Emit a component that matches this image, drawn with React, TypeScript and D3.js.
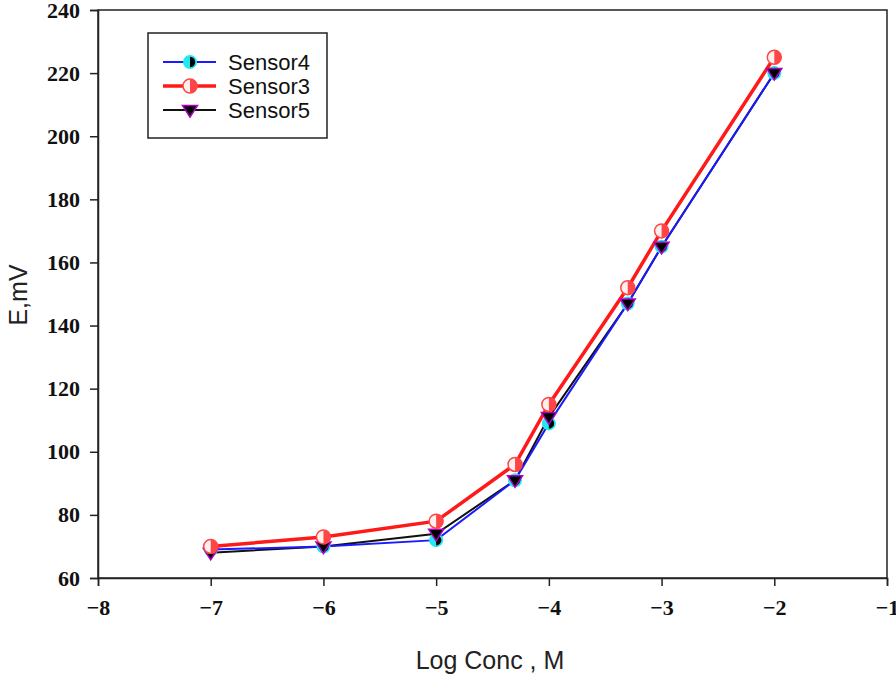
import React, { useEffect, useRef } from "react";
import * as d3 from "d3";

const logConc = [-7, -6, -5, -4.3, -4, -3.3, -3, -2];
const sensor4 = [69, 70, 72, 91, 109, 147, 165, 220];
const sensor3 = [70, 73, 78, 96, 115, 152, 170, 225];
const sensor5 = [68, 70, 74, 91, 111, 147, 165, 220];
const xTicks = [-8, -7, -6, -5, -4, -3, -2, -1];
const yTicks = [60, 80, 100, 120, 140, 160, 180, 200, 220, 240];

function App() {
  const svgRef = useRef(null);
  const svgWidth = 896;
  const svgHeight = 675;

  useEffect(() => {
    const svg = d3.select(svgRef.current);
    svg.selectAll("*").remove();
    const left = 98, right = 887, top = 10, bottom = 578;

    const x = d3.scaleLinear().domain([-8, -1]).range([left, right]);
    const y = d3.scaleLinear().domain([60, 240]).range([bottom, top]);

    // frame
    svg.append("rect")
      .attr("x", left).attr("y", top)
      .attr("width", right - left).attr("height", bottom - top)
      .attr("fill", "white").attr("stroke", "#222").attr("stroke-width", 1.5);

    const xAxis = svg.append("g")
      .attr("transform", `translate(0,${bottom})`)
      .call(d3.axisBottom(x).tickValues(xTicks).tickSize(8).tickPadding(13).tickFormat(d3.format("d")));
    const yAxis = svg.append("g")
      .attr("transform", `translate(${left},0)`)
      .call(d3.axisLeft(y).tickValues(yTicks).tickSize(8).tickPadding(10));

    [xAxis, yAxis].forEach((a) => {
      a.select(".domain").attr("stroke", "#222").attr("stroke-width", 1.5);
      a.selectAll(".tick line").attr("stroke", "#222").attr("stroke-width", 1.5);
      a.selectAll(".tick text")
        .attr("fill", "#111")
        .style("font-family", "'Liberation Serif', 'Times New Roman', serif")
        .style("font-weight", "bold")
        .style("font-size", "22px");
    });

    svg.append("text")
      .attr("x", 490).attr("y", 669)
      .attr("text-anchor", "middle")
      .style("font-family", "'Liberation Sans', Arial, sans-serif")
      .style("font-size", "25px")
      .attr("fill", "#222")
      .text("Log Conc , M");

    svg.append("text")
      .attr("transform", "translate(27,295) rotate(-90)")
      .attr("text-anchor", "middle")
      .style("font-family", "'Liberation Sans', Arial, sans-serif")
      .style("font-size", "25px")
      .attr("fill", "#222")
      .text("E,mV");

    const series = [
      { name: "Sensor5", values: sensor5, color: "#111", width: 2, marker: "tri" },
      { name: "Sensor4", values: sensor4, color: "#1a1aff", width: 2, marker: "cyan" },
      { name: "Sensor3", values: sensor3, color: "#ff1a1a", width: 3.5, marker: "red" },
    ];

    const line = d3.line<[number, number]>().x((d) => x(d[0])).y((d) => y(d[1]));

    const halfPath = (cx: number, cy: number, r: number) =>
      `M${cx},${cy - r} A${r},${r} 0 0 1 ${cx},${cy + r} Z`;

    const drawMarker = (g: any, cx: number, cy: number, type: string) => {
      const r = 7;
      if (type === "tri") {
        const s = 7.5;
        g.append("path")
          .attr("d", `M${cx - s},${cy - s * 0.6} L${cx + s},${cy - s * 0.6} L${cx},${cy + s * 0.95} Z`)
          .attr("fill", "#000").attr("stroke", "#b000c8").attr("stroke-width", 1.5);
      } else if (type === "cyan") {
        g.append("circle").attr("cx", cx).attr("cy", cy).attr("r", r).attr("fill", "#22e8f0");
        g.append("path").attr("d", halfPath(cx, cy, r * 0.75)).attr("fill", "#000");
      } else {
        g.append("circle").attr("cx", cx).attr("cy", cy).attr("r", r)
          .attr("fill", "#fff0f0").attr("stroke", "#ff4545").attr("stroke-width", 1.5);
        g.append("path").attr("d", halfPath(cx, cy, r)).attr("fill", "#ff4545");
      }
    };

    series.forEach((s) => {
      const pts = logConc.map((c, i) => [c, s.values[i]] as [number, number]);
      svg.append("path")
        .datum(pts)
        .attr("d", line)
        .attr("fill", "none")
        .attr("stroke", s.color)
        .attr("stroke-width", s.width);
    });
    // markers: cyan under triangles, red on top
    ["cyan", "tri", "red"].forEach((m) => {
      const s = series.find((q) => q.marker === m)!;
      const g = svg.append("g");
      logConc.forEach((c, i) => drawMarker(g, x(c), y(s.values[i]), m));
    });

    // legend
    const lg = svg.append("g");
    lg.append("rect")
      .attr("x", 148).attr("y", 33).attr("width", 179).attr("height", 105)
      .attr("fill", "white").attr("stroke", "#222").attr("stroke-width", 1.5);
    const legendItems = [
      { name: "Sensor4", color: "#1a1aff", width: 2, marker: "cyan" },
      { name: "Sensor3", color: "#ff1a1a", width: 3.5, marker: "red" },
      { name: "Sensor5", color: "#111", width: 2, marker: "tri" },
    ];
    legendItems.forEach((it, i) => {
      const ly = 62 + i * 24;
      lg.append("line")
        .attr("x1", 163).attr("x2", 216).attr("y1", ly).attr("y2", ly)
        .attr("stroke", it.color).attr("stroke-width", it.width);
      drawMarker(lg, 190, ly, it.marker);
      lg.append("text")
        .attr("x", 228).attr("y", ly + 8)
        .style("font-family", "'Liberation Sans', Arial, sans-serif")
        .style("font-size", "22px")
        .attr("fill", "#111")
        .text(it.name);
    });
  }, []);

  return (
    <div>
      <svg
        ref={svgRef}
        width={svgWidth}
        height={svgHeight}
        style={{ position: "absolute", left: 0, top: 0, background: "white" }}
      ></svg>
    </div>
  );
}

export default App;
